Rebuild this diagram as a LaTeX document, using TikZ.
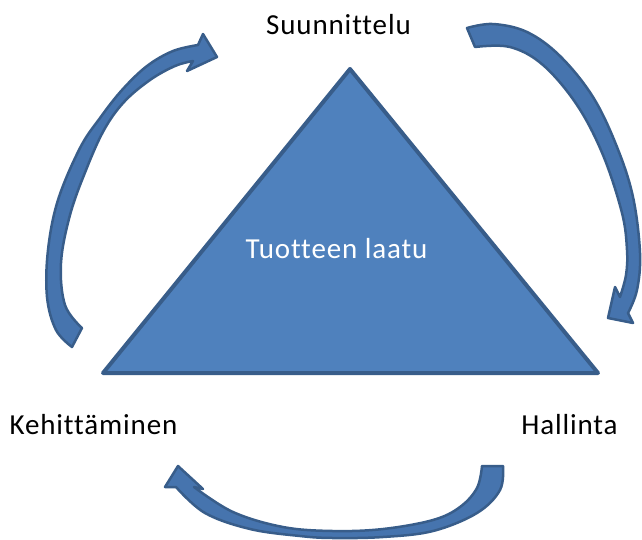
\documentclass[tikz,border=0pt]{standalone}
\usepackage{fontspec}
\setmainfont[Ligatures={NoCommon}, LetterSpace=3]{Carlito}
\definecolor{qfill}{HTML}{4F81BD}
\definecolor{qline}{HTML}{385D8A}
\definecolor{afill}{HTML}{4674AE}
\begin{document}
\begin{tikzpicture}[x=1pt,y=-1pt,
  lbl/.style={anchor=base, inner sep=0pt, font=\fontsize{29}{34}\selectfont},
  cyclearrow/.style={fill=afill, draw=qline, line width=2.5pt, line join=round},
  pyramid/.style={fill=qfill, draw=qline, line width=4pt, line join=round}]
\useasboundingbox (0,0) rectangle (642,539);

% central triangle
\coordinate (apex) at (350,69);
\coordinate (baseL) at (103,373);
\coordinate (baseR) at (598,373);
\path[pyramid] (apex) -- (baseR) -- (baseL) -- cycle;

% labels
\node[lbl, text=white] (quality) at (336.5,258) {Tuotteen laatu};
\node[lbl] (plan) at (338.5,34) {Suunnittelu};
\node[lbl] (develop) at (93.5,434) {Kehittäminen};
\node[lbl] (manage) at (569.5,434) {Hallinta};

% left arrow: Kehittäminen -> Suunnittelu
\path[cyclearrow]
  plot[smooth, tension=0.6] coordinates {(72,347) (56,330) (47,297) (48,250) (58,200) (80,148) (100,118) (122,90) (147,66) (173,51) (198,45)}
  -- (203,34) -- (217,57) -- (187,71) -- (193,61)
  -- plot[smooth, tension=0.6] coordinates {(193,61) (175,66) (150,80) (124,102) (104,130) (86,170) (70,215) (61,263) (65,305) (82,328)}
  -- cycle;

% right arrow: Suunnittelu -> Hallinta
\path[cyclearrow]
  plot[smooth, tension=0.6] coordinates {(467,28) (493,24) (527,32) (560,56) (593,97) (617,147) (633,197) (640,253) (637,290) (628,313)}
  -- (633,323) -- (608,318) -- (615,287) -- (620,297)
  -- plot[smooth, tension=0.6] coordinates {(620,297) (626,275) (627,250) (622,213) (603,155) (577,105) (543,65) (510,47) (475,47)}
  -- cycle;

% bottom arrow: Hallinta -> Kehittäminen
\path[cyclearrow]
  plot[smooth, tension=0.6] coordinates {(503,466) (500,490) (477,513) (433,531) (383,537) (333,538) (300,536) (250,529) (205,513) (176,487)}
  -- (165,487) -- (178,466) -- (203,489) -- (194,487)
  -- plot[smooth, tension=0.6] coordinates {(194,487) (233,512) (283,527) (333,531) (383,529) (433,520) (460,507) (477,488) (482,466)}
  -- cycle;
\end{tikzpicture}
\end{document}
